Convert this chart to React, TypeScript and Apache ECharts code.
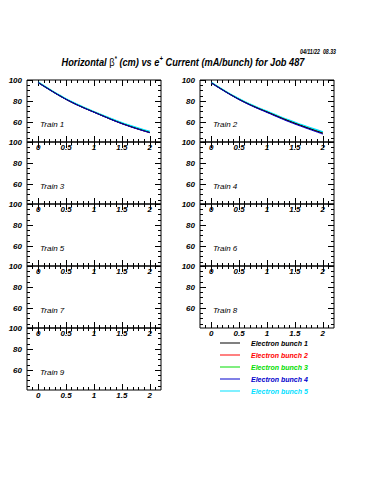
import React, { useEffect, useRef } from "react";
import * as echarts from "echarts";

// ---- data ----
const xValues = [0, 0.2, 0.4, 0.6, 0.8, 1.0, 1.2, 1.4, 1.6, 1.8, 2.0];

const bunchNames = [
  "Electron bunch 1",
  "Electron bunch 2",
  "Electron bunch 3",
  "Electron bunch 4",
  "Electron bunch 5",
];
const bunchColors = ["#000000", "#ff0000", "#00dd00", "#0000cc", "#00e0ff"];

// Train 1 (beta* in cm) per bunch
const train1Bunch1 = [97.6, 91.0, 84.6, 78.9, 73.9, 69.4, 64.9, 60.6, 56.7, 53.2, 50.0];
const train1Bunch2 = [97.5, 90.9, 84.5, 78.8, 73.9, 69.4, 64.9, 60.5, 56.6, 53.1, 49.9];
const train1Bunch3 = [97.5, 90.9, 84.6, 78.9, 74.0, 69.5, 65.0, 60.6, 56.8, 53.3, 50.1];
const train1Bunch4 = [97.4, 90.8, 84.5, 78.8, 73.8, 69.3, 64.8, 60.4, 56.5, 53.0, 49.8];
const train1Bunch5 = [97.8, 91.2, 84.9, 79.2, 74.3, 69.8, 65.4, 61.1, 57.4, 54.0, 50.9];

// Train 2
const train2Bunch1 = [97.4, 90.8, 84.5, 78.9, 74.0, 69.6, 65.1, 60.8, 56.8, 53.0, 49.4];
const train2Bunch2 = [97.3, 90.7, 84.4, 78.8, 73.9, 69.5, 65.0, 60.7, 56.7, 52.9, 49.3];
const train2Bunch3 = [97.4, 90.8, 84.5, 78.9, 74.0, 69.6, 65.1, 60.8, 56.8, 53.0, 49.4];
const train2Bunch4 = [97.2, 90.6, 84.3, 78.6, 73.6, 69.1, 64.5, 60.1, 56.1, 52.3, 48.5];
const train2Bunch5 = [97.6, 91.0, 84.8, 79.3, 74.5, 70.1, 65.7, 61.5, 57.6, 53.9, 50.5];

const trainData = [
  [train1Bunch1, train1Bunch2, train1Bunch3, train1Bunch4, train1Bunch5],
  [train2Bunch1, train2Bunch2, train2Bunch3, train2Bunch4, train2Bunch5],
];

const trainNames = [
  "Train 1", "Train 2", "Train 3", "Train 4", "Train 5",
  "Train 6", "Train 7", "Train 8", "Train 9",
];

const xMajorTicks = [0, 0.5, 1, 1.5, 2];
const xMinorTicks = [
  -0.1, 0, 0.1, 0.2, 0.3, 0.4, 0.5, 0.6, 0.7, 0.8, 0.9, 1, 1.1, 1.2, 1.3, 1.4,
  1.5, 1.6, 1.7, 1.8, 1.9, 2, 2.1,
];
const yMajorTicks = [60, 80, 100];
const yMinorTicks = [45, 50, 55, 65, 70, 75, 85, 90, 95];

const dateText = "04/11/22  08.33";

const FONT = "Liberation Sans";

function buildOption() {
  const grids: any[] = [];
  const xAxes: any[] = [];
  const yAxes: any[] = [];
  const series: any[] = [];
  const graphics: any[] = [];

  const labelStyle = {
    fontFamily: FONT,
    fontStyle: "italic",
    fontWeight: "bold",
    fontSize: 8,
    color: "#000",
  };

  for (let i = 0; i < 9; i++) {
    const col = i % 2;
    const row = Math.floor(i / 2);
    const left = col === 0 ? 27 : 200;
    const top = 80 + row * 62;
    grids.push({
      left,
      top,
      width: 134,
      height: 62,
      show: true,
      borderColor: "#000",
      borderWidth: 1,
      backgroundColor: "transparent",
    });
    const xBase = {
      type: "value",
      gridIndex: i,
      min: -0.2,
      max: 2.2,
      axisLine: { show: false, onZero: false },
      splitLine: { show: false },
    };
    const tickLine = { color: "#000", width: 1 };
    xAxes.push({
      ...xBase,
      position: "bottom",
      axisTick: { show: true, inside: true, length: 6, customValues: xMajorTicks, lineStyle: tickLine },
      axisLabel: {
        show: true,
        customValues: xMajorTicks,
        margin: 1,
        ...labelStyle,
        formatter: (v: number) => String(v),
      },
    });
    xAxes.push({
      ...xBase,
      position: "bottom",
      axisTick: { show: true, inside: true, length: 3, customValues: xMinorTicks, lineStyle: tickLine },
      axisLabel: { show: false },
    });
    xAxes.push({
      ...xBase,
      position: "top",
      axisTick: { show: true, inside: true, length: 6, customValues: xMajorTicks, lineStyle: tickLine },
      axisLabel: { show: false },
    });
    xAxes.push({
      ...xBase,
      position: "top",
      axisTick: { show: true, inside: true, length: 3, customValues: xMinorTicks, lineStyle: tickLine },
      axisLabel: { show: false },
    });

    const yBase = {
      type: "value",
      gridIndex: i,
      min: 41,
      max: 100,
      axisLine: { show: false, onZero: false },
      splitLine: { show: false },
    };
    yAxes.push({
      ...yBase,
      position: "left",
      axisTick: { show: true, inside: true, length: 6, customValues: yMajorTicks, lineStyle: tickLine },
      axisLabel: {
        show: true,
        customValues: yMajorTicks,
        margin: 5,
        ...labelStyle,
        formatter: (v: number) => String(v),
      },
    });
    yAxes.push({
      ...yBase,
      position: "left",
      axisTick: { show: true, inside: true, length: 3, customValues: yMinorTicks, lineStyle: tickLine },
      axisLabel: { show: false },
    });
    yAxes.push({
      ...yBase,
      position: "right",
      axisTick: { show: true, inside: true, length: 6, customValues: yMajorTicks, lineStyle: tickLine },
      axisLabel: { show: false },
    });
    yAxes.push({
      ...yBase,
      position: "right",
      axisTick: { show: true, inside: true, length: 3, customValues: yMinorTicks, lineStyle: tickLine },
      axisLabel: { show: false },
    });

    graphics.push({
      type: "text",
      x: left + 13,
      y: top + 44,
      style: {
        text: trainNames[i],
        fontFamily: FONT,
        fontStyle: "italic",
        fontSize: 8,
        fill: "#000",
        align: "left",
        verticalAlign: "middle",
      },
    });
  }

  // draw order: cyan (widest) at the bottom, blue on top
  const drawOrder = [4, 2, 1, 0, 3];
  const widths = [1, 1, 1, 1, 1.8];
  trainData.forEach((bunches, t) => {
    drawOrder.forEach((b) => {
      series.push({
        type: "line",
        name: bunchNames[b],
        xAxisIndex: 4 * t,
        yAxisIndex: 4 * t,
        data: xValues.map((x, k) => [x, bunches[b][k]]),
        smooth: true,
        symbol: "none",
        lineStyle: { color: bunchColors[b], width: widths[b] },
        itemStyle: { color: bunchColors[b] },
      });
    });
  });

  graphics.push({
    type: "text",
    x: 183,
    y: 62,
    scaleX: 0.84,
    style: {
      text:
        "{a|Horizontal }{g|β}{s|*}{a| (cm) vs e}{s|+}{a| Current (mA/bunch) for Job 487}",
      rich: {
        a: { fontFamily: FONT, fontStyle: "italic", fontWeight: "bold", fontSize: 11, fill: "#000", lineHeight: 14 },
        g: { fontFamily: FONT, fontStyle: "normal", fontSize: 11, fill: "#000", lineHeight: 14 },
        s: { fontFamily: FONT, fontStyle: "italic", fontWeight: "bold", fontSize: 7, fill: "#000", lineHeight: 14, verticalAlign: "top" },
      },
      align: "center",
      verticalAlign: "middle",
    },
  });
  graphics.push({
    type: "text",
    x: 336,
    y: 51,
    scaleX: 0.75,
    style: {
      text: dateText,
      fontFamily: FONT,
      fontStyle: "italic",
      fontWeight: "bold",
      fontSize: 7,
      fill: "#000",
      align: "right",
      verticalAlign: "middle",
    },
  });

  return {
    animation: false,
    backgroundColor: "#ffffff",
    grid: grids,
    xAxis: xAxes,
    yAxis: yAxes,
    series,
    legend: {
      orient: "vertical",
      left: 220,
      top: 339,
      padding: 0,
      itemWidth: 20,
      itemHeight: 1,
      itemGap: 4,
      icon: "rect",
      selectedMode: false,
      data: bunchNames.map((n, i) => ({
        name: n,
        textStyle: { color: bunchColors[i] },
      })),
      textStyle: {
        fontFamily: FONT,
        fontStyle: "italic",
        fontWeight: "bold",
        fontSize: 7,
        lineHeight: 8,
        padding: [0, 0, 0, 6],
      },
    },
    graphic: graphics,
  };
}

export default function App() {
  const ref = useRef<HTMLDivElement>(null);
  useEffect(() => {
    if (!ref.current) return;
    const chart = echarts.init(ref.current, null, { renderer: "svg" });
    chart.setOption(buildOption() as any);
    return () => chart.dispose();
  }, []);
  return (
    <div
      ref={ref}
      style={{ position: "fixed", left: 0, top: 0, width: 375, height: 500, background: "#fff" }}
    />
  );
}
